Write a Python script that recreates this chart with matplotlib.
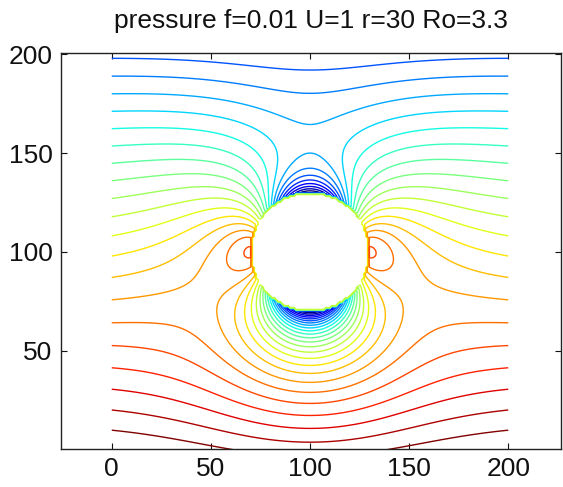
"""Pressure field around a cylinder in a rotating flow, drawn as contour lines."""

import numpy as np
import matplotlib
matplotlib.use("Agg")
import matplotlib.pyplot as plt

# Flow parameters
f = 0.01          # Coriolis parameter
U = 1.0           # far-field velocity
r = 30.0          # cylinder radius
x0, y0 = 100.0, 100.0   # cylinder centre
Ro = U / (f * r)

# Grid
x = np.arange(0, 201)
y = np.arange(0, 201)
n_levels = 25

xticks = [0, 50, 100, 150, 200]
yticks = [50, 100, 150, 200]


def pressure_field():
    """Potential flow past a cylinder + geostrophic term: p = -f*psi - |u|^2/2."""
    X, Y = np.meshgrid(x, y)
    dx, dy = X - x0, Y - y0
    rho2 = dx**2 + dy**2
    rho2 = np.where(rho2 == 0, 1.0, rho2)
    psi = U * dy * (1 - r**2 / rho2)
    u = U * (1 - r**2 * (dx**2 - dy**2) / rho2**2)
    v = -2 * U * r**2 * dx * dy / rho2**2
    p = -f * psi - 0.5 * (u**2 + v**2) + 0.5 * U**2
    p[rho2 < r**2] = 0.0   # inside the cylinder
    return X, Y, p


plt.rcParams["font.family"] = ["Liberation Sans", "DejaVu Sans"]

X, Y, p = pressure_field()
levels = np.linspace(p.min(), p.max(), n_levels + 2)[1:-1]

fig = plt.figure(figsize=(5.63, 4.87), dpi=100)
ax = fig.add_axes([61 / 563, 1 - 448.7 / 487, 500 / 563, 395.4 / 487])

# line colours follow the level range
ax.contour(X, Y, p, levels=levels, cmap="jet", linewidths=1.0)

ax.set_xlim(-25.6, 226.6)
ax.set_ylim(0.6, 200.4)
ax.set_xticks(xticks)
ax.set_yticks(yticks)
ax.tick_params(direction="in", length=4, width=0.8, top=True, right=True,
               labelsize=19, pad=6, colors="#111111")
for s in ax.spines.values():
    s.set_linewidth(1.0)
    s.set_color("#222222")

ax.set_title(f"pressure f={f:g} U={U:g} r={r:g} Ro={Ro:.1f}", fontsize=19, pad=18,
             color="#111111")

fig.savefig("out.png", dpi=100)
